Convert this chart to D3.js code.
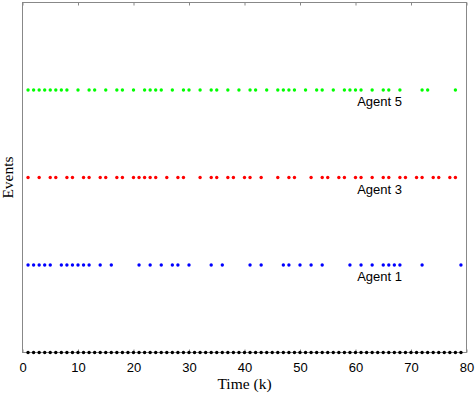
<!DOCTYPE html>
<html>
<head>
<meta charset="utf-8">
<script src="https://cdn.jsdelivr.net/npm/d3@7"></script>
<style>
  body { margin: 0; background: #fff; }
</style>
</head>
<body>
<div id="chart"></div>
<script>
'use strict'

// event times (k) per agent
const allSteps = [1,2,3,4,5,6,7,8,9,10,11,12,13,14,15,16,17,18,19,20,21,22,23,24,25,26,27,28,29,30,
    31,32,33,34,35,36,37,38,39,40,41,42,43,44,45,46,47,48,49,50,51,52,53,54,55,56,57,58,59,60,
    61,62,63,64,65,66,67,68,69,70,71,72,73,74,75,76,77,78,79]
const agent1 = [1,2,3,4,5,7,8,9,10,11,12,14,16,21,23,25,27,28,30,34,36,41,43,47,48,50,52,54,59,61,63,65,66,67,68,72,79]
const agent3 = [1,3,5,6,8,9,11,12,14,15,17,18,20,21,22,23,24,26,28,29,32,34,35,37,38,40,41,43,46,48,49,52,54,55,57,58,60,61,63,65,66,68,69,71,72,74,75,77,78]
const agent5 = [1,2,3,4,5,6,7,8,10,12,13,15,17,18,20,22,23,24,25,27,29,30,32,34,35,37,39,41,42,44,46,47,48,49,51,53,54,56,58,59,60,61,63,65,66,68,72,73,78]

const xTicks = [0,10,20,30,40,50,60,70,80]

// rows: level on y axis, colour, label
const rows = [
    {name: '', level: 0, color: '#000000', times: allSteps},
    {name: 'Agent 1', level: 1, color: '#0000ff', times: agent1},
    {name: 'Agent 3', level: 2, color: '#ff0000', times: agent3},
    {name: 'Agent 5', level: 3, color: '#00ff00', times: agent5}
]

////////////////////////////////////
//////////// svg setup /////////////
////////////////////////////////////

const svgWidth = 475, svgHeight = 394
const margin = {left: 22.5, right: 8.5, top: 2.5, bottom: 41.5}
const width = svgWidth - margin.left - margin.right
const height = svgHeight - margin.top - margin.bottom

const svg = d3.select('#chart')
    .append('svg')
    .attr('width', svgWidth)
    .attr('height', svgHeight)
    .append('g')
    .attr('transform', `translate(${margin.left},${margin.top})`)

const x = d3.scaleLinear().domain([0, 80]).range([0, width])
const y = d3.scaleLinear().domain([0, 4]).range([height, 0])

// box
svg.append('rect')
    .attr('width', width)
    .attr('height', height)
    .attr('fill', 'none')
    .attr('stroke', '#888')
    .attr('stroke-width', 1)

// bottom ticks (inward) + labels
const bottomAxis = svg.append('g')
    .attr('transform', `translate(0,${height})`)
    .call(d3.axisBottom(x).tickValues(xTicks).tickSizeInner(-3).tickSizeOuter(0).tickPadding(10))
bottomAxis.select('.domain').remove()
bottomAxis.selectAll('line').attr('stroke', '#888')
bottomAxis.selectAll('text')
    .style('font-family', 'Liberation Sans, Arial, sans-serif')
    .style('font-size', '13px')
    .attr('fill', '#000')

// top ticks (inward)
const topAxis = svg.append('g')
    .call(d3.axisTop(x).tickValues(xTicks).tickSizeInner(-3).tickSizeOuter(0).tickFormat(''))
topAxis.select('.domain').remove()
topAxis.selectAll('line').attr('stroke', '#888')

// dots
rows.forEach(r => {
    svg.append('g')
        .selectAll('circle')
        .data(r.times)
        .join('circle')
        .attr('cx', d => x(d))
        .attr('cy', y(r.level))
        .attr('r', 1.7)
        .attr('fill', r.color)

    if (r.name) {
        svg.append('text')
            .attr('x', x(60.3))
            .attr('y', y(r.level) + 16)
            .text(r.name)
            .style('font-family', 'Liberation Sans, Arial, sans-serif')
            .style('font-size', '13px')
            .style('fill', '#000')
    }
})

// axis titles
svg.append('text')
    .attr('x', width / 2)
    .attr('y', height + 36)
    .attr('text-anchor', 'middle')
    .text('Time (k)')
    .style('font-family', 'Liberation Serif, serif')
    .style('font-size', '15.5px')
    .style('fill', '#000')

svg.append('text')
    .attr('transform', `translate(-10,${height / 2}) rotate(-90)`)
    .attr('text-anchor', 'middle')
    .text('Events')
    .style('font-family', 'Liberation Serif, serif')
    .style('font-size', '15.5px')
    .style('fill', '#000')
</script>
</body>
</html>
